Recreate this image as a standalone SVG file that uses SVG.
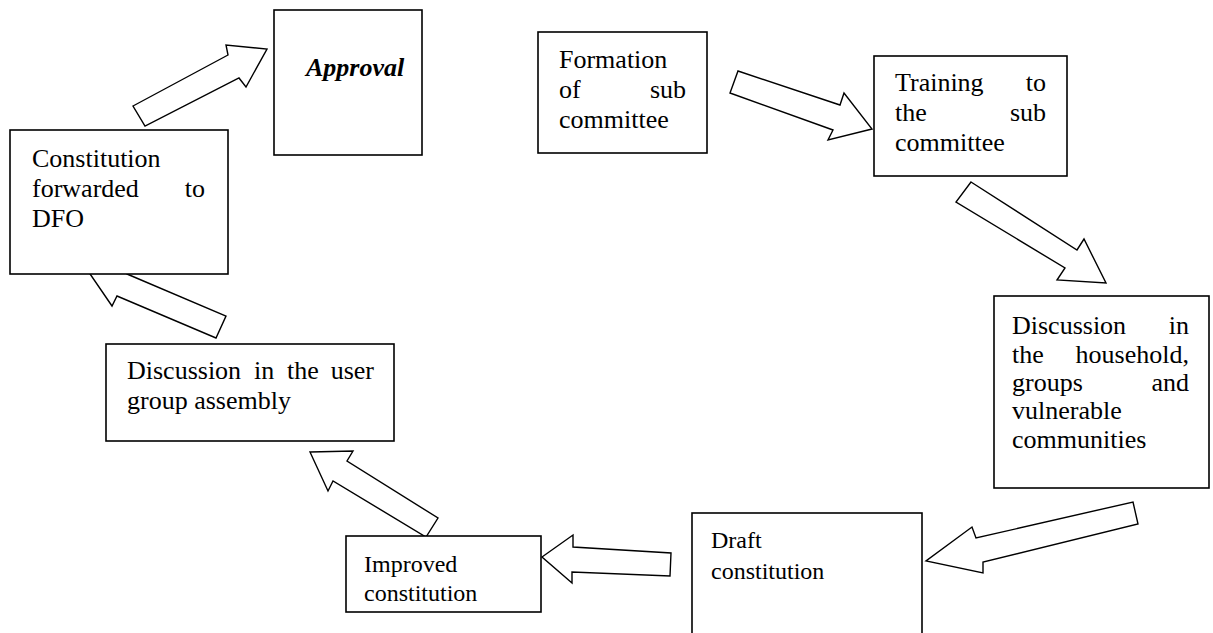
<svg xmlns="http://www.w3.org/2000/svg" width="1213" height="633" viewBox="0 0 1213 633">
<style>
.box{fill:#fff;stroke:#000;stroke-width:1.6}
.arr{fill:#fff;stroke:#000;stroke-width:1.4;stroke-linejoin:miter}
.t{font-family:'Liberation Serif','Times New Roman',Times,'DejaVu Serif',serif;font-size:26px;fill:#000}
.s24{font-size:24px}
.e{text-anchor:end}
.bi{font-weight:bold;font-style:italic}
</style>
<rect width="1213" height="633" fill="#fff"/>
<g id="connectors">
<polygon class="arr" points="133,106 228,55 226,45 267,49 246,87 239,78 145,126"/>
<polygon class="arr" points="738,71 840,105 844,93 872,129 828,140 833,130 730,93"/>
<polygon class="arr" points="971,182 1077,250 1084,239 1106,283 1057,280 1065,268 956,202"/>
<polygon class="arr" points="1133,502 1138,524 983,562 983,573 926,561 972,527 976,538"/>
<polygon class="arr" points="542,557 573,535 573,547 671,553 670,576 572,572 572,583"/>
<polygon class="arr" points="310,452 353,451 347,461 438,518 426,537 333,481 328,491"/>
<polygon class="arr" points="88,271 131,263 127,274 226,316 216,338 117,296 112,306"/>
</g>
<g id="approval">
<rect class="box" x="274" y="10" width="148" height="145"/>
<text class="t bi" x="306" y="76">Approval</text>
</g>
<g id="forwarded">
<rect class="box" x="10" y="130" width="218" height="144"/>
<text class="t" x="32" y="167">Constitution</text>
<text class="t" x="32" y="197">forwarded</text>
<text class="t e" x="205" y="197">to</text>
<text class="t" x="32" y="227">DFO</text>
</g>
<g id="formation">
<rect class="box" x="538" y="32" width="169" height="121"/>
<text class="t" x="559" y="68">Formation</text>
<text class="t" x="559" y="98">of</text>
<text class="t e" x="686" y="98">sub</text>
<text class="t" x="559" y="128">committee</text>
</g>
<g id="training">
<rect class="box" x="874" y="56" width="193" height="120"/>
<text class="t" x="895" y="91">Training</text>
<text class="t e" x="1046" y="91">to</text>
<text class="t" x="895" y="121">the</text>
<text class="t e" x="1046" y="121">sub</text>
<text class="t" x="895" y="151">committee</text>
</g>
<g id="household">
<rect class="box" x="994" y="296" width="215" height="192"/>
<text class="t" x="1012" y="334">Discussion</text>
<text class="t e" x="1189" y="334">in</text>
<text class="t" x="1012" y="363">the</text>
<text class="t e" x="1189" y="363">household,</text>
<text class="t" x="1012" y="391">groups</text>
<text class="t e" x="1189" y="391">and</text>
<text class="t" x="1012" y="419">vulnerable</text>
<text class="t" x="1012" y="448">communities</text>
</g>
<g id="draft">
<rect class="box" x="692" y="513" width="230" height="140"/>
<text class="t s24" x="711" y="548">Draft</text>
<text class="t s24" x="711" y="579">constitution</text>
</g>
<g id="improved">
<rect class="box" x="346" y="536" width="195" height="76"/>
<text class="t s24" x="364" y="572">Improved</text>
<text class="t s24" x="364" y="601">constitution</text>
</g>
<g id="usergroup">
<rect class="box" x="106" y="344" width="288" height="97"/>
<text class="t" x="127" y="379">Discussion</text>
<text class="t" x="254" y="379">in</text>
<text class="t" x="287" y="379">the</text>
<text class="t e" x="374" y="379">user</text>
<text class="t" x="127" y="409">group assembly</text>
</g>
</svg>
